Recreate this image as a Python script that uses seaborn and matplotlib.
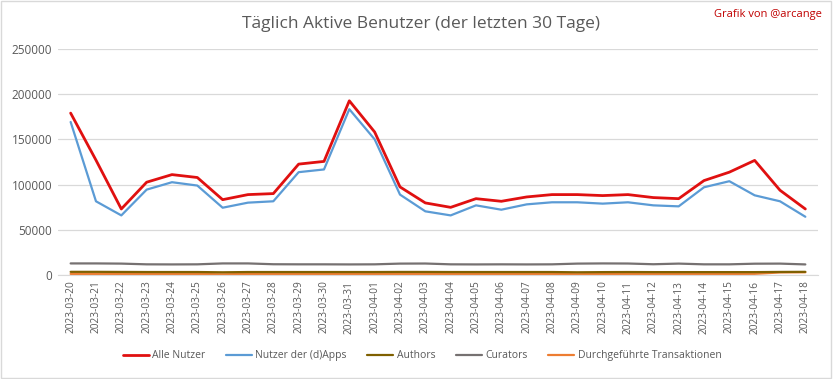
import pandas as pd
import matplotlib.pyplot as plt
import seaborn as sns

sns.set_style("white")
plt.rcParams['font.family'] = ['Open Sans', 'DejaVu Sans']

dates = pd.date_range('2023-03-20', '2023-04-18').strftime('%Y-%m-%d').tolist()

alle_nutzer = [179000, 127000, 73000, 102600, 111000, 107800, 83300, 88900, 90000, 122600,
               125600, 192600, 158100, 97400, 79700, 74800, 84400, 81500, 86300, 88900,
               88900, 87800, 88900, 85600, 84400, 104400, 113700, 126700, 93700, 73000]
nutzer_dapps = [169200, 81500, 65900, 94400, 102600, 98900, 74400, 80000, 81500, 113700,
                116700, 183300, 150000, 88900, 70400, 65900, 77000, 72200, 78100, 80400,
                80400, 78900, 80400, 77000, 75900, 97000, 103700, 88100, 81500, 64400]
authors = [3500, 3500, 3400, 3300, 3300, 3300, 3000, 3300, 3300, 3300,
           3300, 3300, 3300, 3400, 3400, 3300, 3300, 3300, 3300, 3300,
           3000, 3200, 3300, 3200, 3200, 3200, 3200, 3200, 3400, 3500]
curators = [12800, 12800, 12600, 11800, 11700, 11800, 12800, 12800, 11900, 11800,
            11800, 11700, 11800, 12600, 12700, 11800, 11700, 11800, 11700, 11800,
            12600, 12800, 12700, 11900, 12600, 11800, 11800, 12500, 12600, 11700]
transaktionen = [1200, 1200, 1200, 1200, 1200, 1200, 800, 1200, 1200, 1200,
                 1200, 1200, 1200, 1200, 1200, 1200, 1200, 1200, 1200, 1200,
                 900, 1200, 1200, 1200, 1200, 1200, 1200, 1300, 2800, 3000]

series = {
    'Alle Nutzer': alle_nutzer,
    'Nutzer der (d)Apps': nutzer_dapps,
    'Authors': authors,
    'Curators': curators,
    'Durchgeführte Transaktionen': transaktionen,
}
farben = {
    'Alle Nutzer': '#E01010',
    'Nutzer der (d)Apps': '#5B9BD5',
    'Authors': '#7F6000',
    'Curators': '#767171',
    'Durchgeführte Transaktionen': '#ED7D31',
}
breiten = {
    'Alle Nutzer': 2.0,
    'Nutzer der (d)Apps': 1.6,
    'Authors': 1.6,
    'Curators': 1.6,
    'Durchgeführte Transaktionen': 1.6,
}

df = pd.DataFrame([
    {'datum': d, 'serie': name, 'wert': v, 'idx': i}
    for name, werte in series.items()
    for i, (d, v) in enumerate(zip(dates, werte))
])

fig = plt.figure(figsize=(8.33, 3.79), dpi=100)
ax = fig.add_axes([0.0696, 0.2744, 0.9124, 0.5966])

# Reihenfolge: Transaktionen unten, Alle Nutzer oben
for name in reversed(list(series.keys())):
    sub = df[df['serie'] == name]
    sns.lineplot(data=sub, x='idx', y='wert', ax=ax, color=farben[name],
                 linewidth=breiten[name], label=name)

ax.set_xlim(-0.5, len(dates) - 0.5)
ax.set_ylim(0, 250000)
ax.set_yticks(range(0, 250001, 50000))
ax.set_yticklabels([str(v) for v in range(0, 250001, 50000)], fontsize=8.5, color='#595959')
ax.set_xticks(range(len(dates)))
ax.set_xticklabels(dates, rotation=90, fontsize=7.3, color='#595959')
ax.tick_params(axis='both', length=0, pad=4)
ax.grid(True, axis='y', color='#D9D9D9', linewidth=0.9)
ax.set_axisbelow(True)
for s in ['top', 'right', 'left']:
    ax.spines[s].set_visible(False)
ax.spines['bottom'].set_color('#D9D9D9')
ax.set_xlabel('')
ax.set_ylabel('')

handles, labels = ax.get_legend_handles_labels()
ordnung = list(series.keys())
paare = sorted(zip(handles, labels), key=lambda p: ordnung.index(p[1]))
ax.legend([p[0] for p in paare], [p[1] for p in paare], ncol=5, frameon=False,
          loc='center', bbox_to_anchor=(0.479, -0.358), fontsize=7.5,
          handlelength=2.5, handletextpad=0.3, columnspacing=2.0,
          labelcolor='#595959')

fig.text(0.505, 0.937, 'Täglich Aktive Benutzer (der letzten 30 Tage)', ha='center', va='center',
         fontsize=12.5, color='#595959')
fig.text(0.987, 0.962, 'Grafik von @arcange', ha='right', va='center',
         fontsize=8, color='#C00000')

# Rahmen um das Diagramm
fig.patches.append(plt.Rectangle((0.001, 0.002), 0.997, 0.995, transform=fig.transFigure,
                                 fill=False, edgecolor='#D9D9D9', linewidth=1))

fig.savefig('out.png', dpi=100)
